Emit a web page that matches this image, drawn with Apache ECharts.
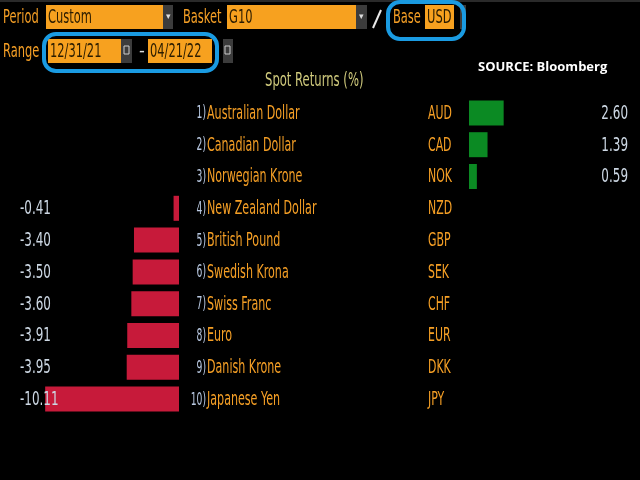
<!DOCTYPE html>
<html><head><meta charset="utf-8">
<script src="https://cdn.jsdelivr.net/npm/echarts@6/dist/echarts.min.js"></script>
<style>html,body{margin:0;padding:0;background:#000;}#c{width:640px;height:480px;}</style>
</head><body><div id="c"></div>
<script>
var names = ['Australian Dollar','Canadian Dollar','Norwegian Krone','New Zealand Dollar','British Pound','Swedish Krona','Swiss Franc','Euro','Danish Krone','Japanese Yen'];
var codes = ['AUD','CAD','NOK','NZD','GBP','SEK','CHF','EUR','DKK','JPY'];
var returns = [2.60, 1.39, 0.59, -0.41, -3.40, -3.50, -3.60, -3.91, -3.95, -10.11];
var negRange = [-10.5, 0];
var posRange = [0, 3];

var FONT = "'DejaVu Sans Condensed','DejaVu Sans',sans-serif";
var FS = 19, SX = 0.65;
var ORANGE = '#f59f25';
var VAL = '#cdd8e4';
var IDX = '#b9c9e2';

var negData = returns.map(function(v){ return v < 0 ? v : '-'; });
var posData = returns.map(function(v){ return v > 0 ? v : '-'; });
var rowData = returns.map(function(v, i){ return [0, i]; });
function fmt(v){ return v.toFixed(2); }

function txt(x, y, s, fill, align, size, sx){
  return {type:'text', x:x, y:y, scaleX:(sx||SX), z:100,
    style:{text:s, fill:fill, fontSize:(size||FS), fontFamily:FONT, align:(align||'left'), verticalAlign:'middle'}};
}

var chart = echarts.init(document.getElementById('c'), null, {renderer:'canvas'});
function field(x, y, w, h, s){
  return [{type:'rect', shape:{x:x,y:y,width:w,height:h}, style:{fill:'#f7a11f'}},
          txt(x+2, y+h/2+1, s, '#2a1c00', 'left', 19, 0.67)];
}
function btn(x, y, w, h){
  return [{type:'rect', shape:{x:x,y:y,width:w,height:h}, style:{fill:'#3c3c3c'}},
          {type:'text', x:x+w/2, y:y+h/2, style:{text:'▾', fill:'#ddd', font:'9px sans-serif', align:'center', verticalAlign:'middle'}}];
}
var g = [];
g.push({type:'rect', shape:{x:0,y:0,width:640,height:2}, style:{fill:'#2a2a2a'}});
g.push(txt(3, 18, 'Period', ORANGE, 'left', 19, 0.67));
g = g.concat(field(46,5,117,24,'Custom'), btn(163,5,10,24));
g.push(txt(183, 18, 'Basket', ORANGE, 'left', 19, 0.67));
g = g.concat(field(227,5,129,24,'G10'), btn(356,5,11,24));
g.push({type:'line', shape:{x1:373,y1:28,x2:381,y2:10}, style:{stroke:'#e8e8e8', lineWidth:2}});
g.push(txt(393, 18, 'Base', ORANGE, 'left', 19, 0.67));
g = g.concat(field(425,5,29,24,'USD'));
g.push({type:'rect', shape:{x:460,y:5,width:6,height:24}, style:{fill:'#3c3c3c'}});
g.push({type:'rect', shape:{x:388,y:2,width:76,height:37,r:12}, style:{fill:'none', stroke:'#1a9be2', lineWidth:4}});
g.push(txt(3, 52, 'Range', ORANGE, 'left', 19, 0.67));
g = g.concat(field(48,39,73,24,'12/31/21'));
g.push({type:'rect', shape:{x:121,y:39,width:11,height:24}, style:{fill:'#3c3c3c'}});
g.push({type:'rect', shape:{x:124,y:46,width:5,height:8}, style:{fill:'none', stroke:'#ccc', lineWidth:1}});
g.push(txt(142, 51, '-', '#ddd', 'center', 18, 1));
g = g.concat(field(148,39,64,24,'04/21/22'));
g.push({type:'rect', shape:{x:223,y:39,width:10,height:24}, style:{fill:'#3c3c3c'}});
g.push({type:'rect', shape:{x:225,y:46,width:5,height:8}, style:{fill:'none', stroke:'#ccc', lineWidth:1}});
g.push({type:'rect', shape:{x:44,y:34,width:173,height:37,r:12}, style:{fill:'none', stroke:'#1a9be2', lineWidth:4}});
g.push(txt(265, 81, 'Spot Returns (%)', '#cfc97c', 'left', 19, 0.68));
g.push({type:'text', x:478, y:67, style:{text:'SOURCE: Bloomberg', fill:'#fff', fontSize:13, fontWeight:'bold', fontFamily:"'Open Sans','DejaVu Sans',sans-serif", align:'left', verticalAlign:'middle'}});

function renderRow(params, api){
  var i = api.value(1);
  var y = api.coord([0, i])[1] + 1;
  var v = returns[i];
  var kids = [];
  if (v < 0) kids.push(txt(20, y, fmt(v), VAL, 'left', 19, 0.7));
  if (v > 0) kids.push(txt(628, y, fmt(v), VAL, 'right', 19, 0.7));
  kids.push(txt(206, y, (i+1)+')', IDX, 'right', 17, 0.6));
  kids.push(txt(207, y, names[i], ORANGE, 'left'));
  kids.push(txt(428, y, codes[i], ORANGE, 'left', FS, 0.64));
  return {type:'group', children:kids};
}

var option = {
  backgroundColor:'#000',
  animation:false,
  graphic:g,
  grid:[
    {left:40, width:139, top:97, height:318},
    {left:469, width:40, top:97, height:318}
  ],
  xAxis:[
    {gridIndex:0, type:'value', min:negRange[0], max:negRange[1], show:false},
    {gridIndex:1, type:'value', min:posRange[0], max:posRange[1], show:false}
  ],
  yAxis:[
    {gridIndex:0, type:'category', data:codes, inverse:true, show:false},
    {gridIndex:1, type:'category', data:codes, inverse:true, show:false}
  ],
  series:[
    {type:'bar', xAxisIndex:0, yAxisIndex:0, data:negData, barWidth:25, itemStyle:{color:'#c71a3a'}, z:2},
    {type:'bar', xAxisIndex:1, yAxisIndex:1, data:posData, barWidth:25, itemStyle:{color:'#0b8a23'}, z:2},
    {type:'custom', xAxisIndex:0, yAxisIndex:0, data:rowData, renderItem:renderRow, clip:false, z:10, silent:true}
  ]
};
chart.setOption(option);
</script></body></html>
